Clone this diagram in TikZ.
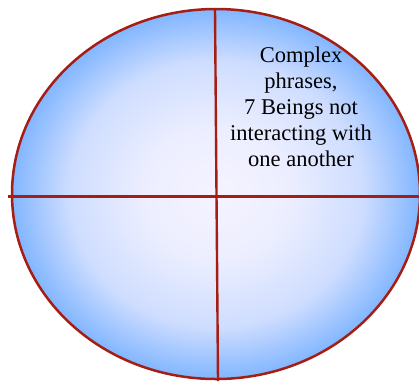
\documentclass[tikz,border=0pt]{standalone}
\usepackage{fontspec}
\setmainfont{Liberation Serif}
\usetikzlibrary{shapes.geometric}
\definecolor{edgeblue}{RGB}{130,182,255}
\definecolor{midblue}{RGB}{206,221,255}
\definecolor{innerblue}{RGB}{236,238,255}
\definecolor{centerblue}{RGB}{245,243,255}
\definecolor{darkred}{RGB}{165,30,20}
\pgfdeclareradialshading{bluish}{\pgfpoint{0bp}{0bp}}{color(0bp)=(centerblue); color(9bp)=(innerblue); color(18bp)=(midblue); color(25bp)=(edgeblue); color(50bp)=(edgeblue)}
\tikzset{
  divider/.style={draw=darkred, line width=2.4pt},
  quadtext/.style={font=\fontsize{22.5}{26}\selectfont, align=center, text=black}
}
\begin{document}
\begin{tikzpicture}[x=1pt,y=-1pt]
\useasboundingbox (0,0) rectangle (419,381);
\node[ellipse, minimum width=408pt, minimum height=370pt, inner sep=0pt, draw=darkred, line width=2.5pt, shading=bluish] (oval) at (216,194) {};
\coordinate (top) at (215,9);
\coordinate (bot) at (218,381);
\coordinate (left) at (8,196.5);
\coordinate (right) at (419,196.5);
\draw[divider] (top) -- (bot);
\draw[divider] (left) -- (right);
\node[quadtext] (txt) at (301,107) {Complex\\phrases,\\7 Beings not\\interacting with\\one another};
\end{tikzpicture}
\end{document}
